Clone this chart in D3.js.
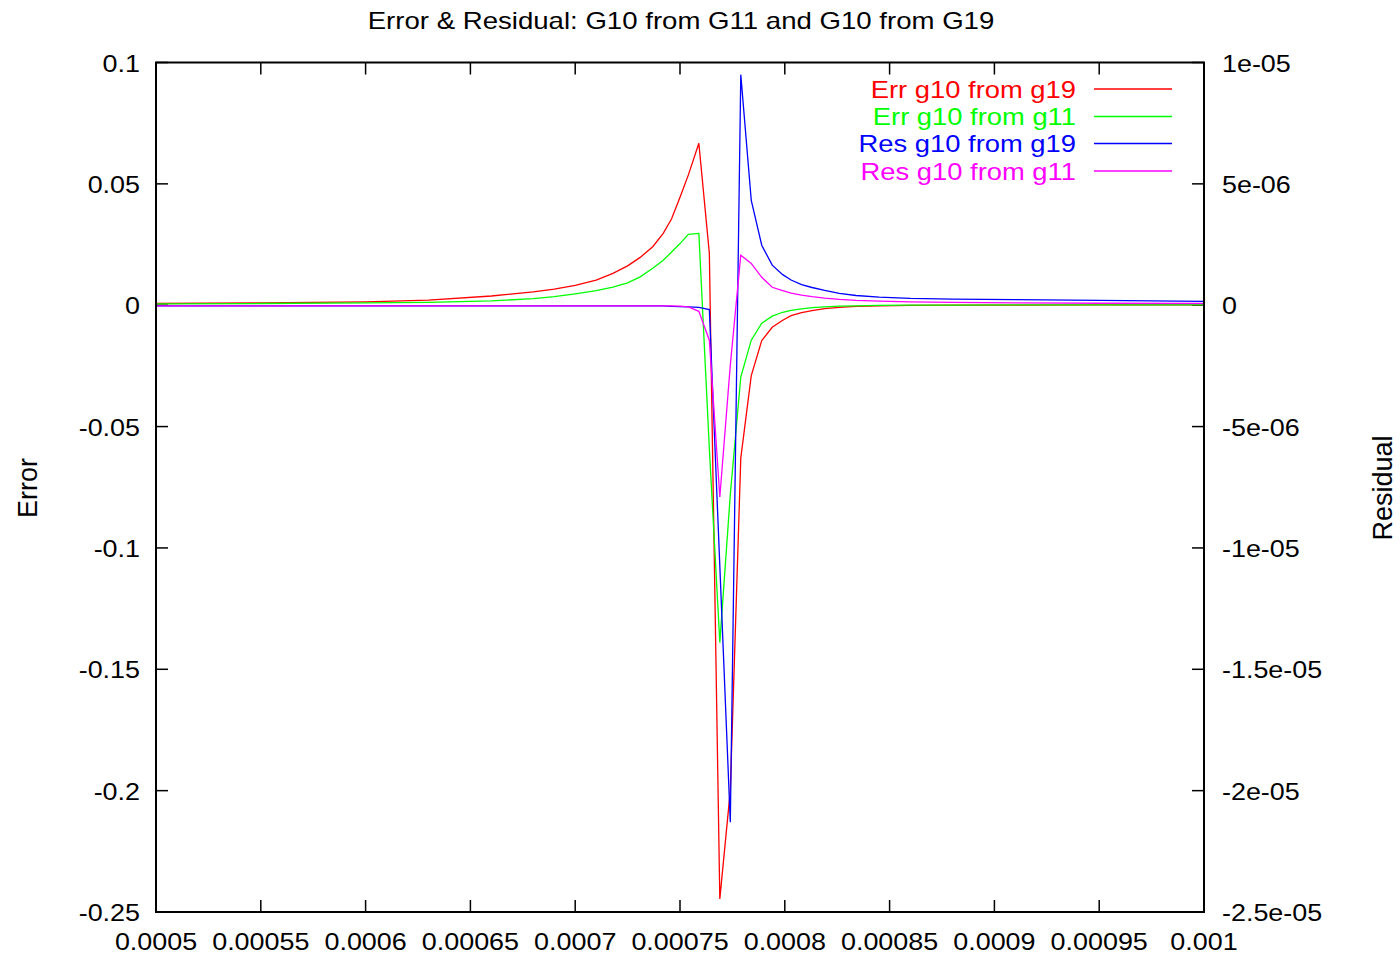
<!DOCTYPE html>
<html>
<head>
<meta charset="utf-8">
<script src="https://cdn.jsdelivr.net/npm/d3@7"></script>
<style>
  body { margin: 0; background: #fff; }
  text { font-family: "Liberation Sans", Arial, Helvetica, sans-serif; fill: #000; }
</style>
</head>
<body>
<svg id="chart" width="1400" height="956"></svg>
<script>
// x positions of the samples
var xValues = [0.0005, 0.00055, 0.0006, 0.00063, 0.00066, 0.00068, 0.00069, 0.0007, 0.00071, 0.000718,
  0.000725, 0.000731, 0.000737, 0.000742, 0.000746, 0.00075, 0.000754, 0.000759,
  0.000764, 0.000769, 0.000774, 0.000779, 0.000784, 0.000789, 0.000794,
  0.000799, 0.000803, 0.000808, 0.000813, 0.000819, 0.000826, 0.000834, 0.000845, 0.00086, 0.00088,
  0.00091, 0.00095, 0.001];

// error series (left axis)
var errG19 = [0.0007, 0.00095, 0.00136, 0.0021, 0.0038, 0.0055, 0.0066, 0.0082, 0.0103, 0.0131,
  0.0162, 0.0197, 0.0241, 0.0296, 0.0356, 0.0445, 0.0537, 0.0667,
  0.0214, -0.2446, -0.20, -0.063, -0.029, -0.0146, -0.0091,
  -0.0062, -0.0043, -0.0031, -0.0022, -0.0014, -0.0009, -0.0005, -0.0003, -0.0001, 0,
  0, 0.0001, 0.0002];
var errG11 = [0.00054, 0.0007, 0.001, 0.0012, 0.0018, 0.0027, 0.0035, 0.0047, 0.006, 0.0075,
  0.0092, 0.0117, 0.0152, 0.0185, 0.0219, 0.0254, 0.0292, 0.0296,
  -0.059, -0.139, -0.078, -0.0296, -0.0144, -0.0074, -0.0045,
  -0.0029, -0.0021, -0.0015, -0.001, -0.0007, -0.0004, -0.00025, -0.0001, 0, 0,
  0.0001, 0.0001, 0.0002];

// residual series (right axis)
var resG19 = [-3e-8, -3e-8, -3e-8, -3e-8, -3e-8, -3e-8, -3e-8, -3e-8, -3e-8, -3e-8,
  -3e-8, -3e-8, -3e-8, -3e-8, -5e-8, -6e-8, -7e-8, -9e-8,
  -1.8e-7, -1.075e-5, -2.13e-5, 9.5e-6, 4.32e-6, 2.47e-6, 1.65e-6,
  1.26e-6, 1.04e-6, 8.5e-7, 7.3e-7, 6.1e-7, 4.9e-7, 4.0e-7, 3.3e-7, 2.8e-7, 2.55e-7,
  2.3e-7, 2.0e-7, 1.6e-7];
var resG11 = [-3e-8, -3e-8, -3e-8, -3e-8, -3e-8, -3e-8, -3e-8, -3e-8, -3e-8, -3e-8,
  -3e-8, -3e-8, -3e-8, -3e-8, -3e-8, -4e-8, -7e-8, -2.5e-7,
  -1.44e-6, -7.9e-6, -2.47e-6, 2.06e-6, 1.72e-6, 1.15e-6, 7.4e-7,
  6.05e-7, 5.0e-7, 4.2e-7, 3.54e-7, 2.96e-7, 2.43e-7, 2.0e-7, 1.7e-7, 1.4e-7, 1.2e-7,
  1.0e-7, 8e-8, 7e-8];

var seriesNames = ["Err g10 from g19", "Err g10 from g11", "Res g10 from g19", "Res g10 from g11"];
var seriesColors = ["#ff0000", "#00ff00", "#0000ff", "#ff00ff"];
var seriesAxis = ["err", "err", "res", "res"];

var xTicks = [0.0005, 0.00055, 0.0006, 0.00065, 0.0007, 0.00075, 0.0008, 0.00085, 0.0009, 0.00095, 0.001];
var xTickLabels = ["0.0005", "0.00055", "0.0006", "0.00065", "0.0007", "0.00075", "0.0008", "0.00085", "0.0009", "0.00095", "0.001"];
var errTicks = [0.1, 0.05, 0, -0.05, -0.1, -0.15, -0.2, -0.25];
var errTickLabels = ["0.1", "0.05", "0", "-0.05", "-0.1", "-0.15", "-0.2", "-0.25"];
var resTicks = [1e-5, 5e-6, 0, -5e-6, -1e-5, -1.5e-5, -2e-5, -2.5e-5];
var resTickLabels = ["1e-05", "5e-06", "0", "-5e-06", "-1e-05", "-1.5e-05", "-2e-05", "-2.5e-05"];

var plotLeft = 156, plotRight = 1204, plotTop = 62.5, plotBottom = 912;
var fs = 23;

var svg = d3.select("#chart");

var x = d3.scaleLinear().domain([0.0005, 0.001]).range([plotLeft, plotRight]);
var yErr = d3.scaleLinear().domain([-0.25, 0.1]).range([plotBottom, plotTop]);
var yRes = d3.scaleLinear().domain([-2.5e-5, 1e-5]).range([plotBottom, plotTop]);

// stretched text like the original
function label(px, py, str, anchor, color, sx) {
  svg.append("g")
    .attr("transform", "translate(" + px + "," + py + ") scale(" + (sx || 1.17) + ",1)")
    .append("text")
    .attr("text-anchor", anchor)
    .style("font-size", fs + "px")
    .style("fill", color || "#000")
    .text(str);
}

svg.append("defs").append("clipPath").attr("id", "plotclip")
  .append("rect").attr("x", plotLeft).attr("y", plotTop)
  .attr("width", plotRight - plotLeft).attr("height", plotBottom - plotTop);

// ticks (inward, mirrored on top)
var tickG = svg.append("g").attr("stroke", "#000").attr("stroke-width", 1.5);
xTicks.forEach(function(t, i) {
  tickG.append("line").attr("x1", x(t)).attr("x2", x(t)).attr("y1", plotBottom).attr("y2", plotBottom - 12);
  tickG.append("line").attr("x1", x(t)).attr("x2", x(t)).attr("y1", plotTop).attr("y2", plotTop + 12);
  label(x(t), 950, xTickLabels[i], "middle");
});
errTicks.forEach(function(t, i) {
  tickG.append("line").attr("x1", plotLeft).attr("x2", plotLeft + 12).attr("y1", yErr(t)).attr("y2", yErr(t));
  label(140, yErr(t) + 9, errTickLabels[i], "end");
});
resTicks.forEach(function(t, i) {
  tickG.append("line").attr("x1", plotRight).attr("x2", plotRight - 12).attr("y1", yRes(t)).attr("y2", yRes(t));
  label(1222, yRes(t) + 9, resTickLabels[i], "start");
});

// lines
var allSeries = [errG19, errG11, resG19, resG11];
var plot = svg.append("g").attr("clip-path", "url(#plotclip)");
allSeries.forEach(function(vals, k) {
  var yScale = seriesAxis[k] === "err" ? yErr : yRes;
  var line = d3.line()
    .x(function(d, i) { return x(xValues[i]); })
    .y(function(d) { return yScale(d); });
  plot.append("path")
    .datum(vals)
    .attr("fill", "none")
    .attr("stroke", seriesColors[k])
    .attr("stroke-width", 1.3)
    .attr("stroke-linejoin", "miter")
    .attr("d", line);
});

// border
svg.append("rect")
  .attr("x", plotLeft).attr("y", plotTop)
  .attr("width", plotRight - plotLeft).attr("height", plotBottom - plotTop)
  .attr("fill", "none").attr("stroke", "#000").attr("stroke-width", 2);

// legend
var legendY = [89, 116.5, 143.5, 171];
seriesNames.forEach(function(name, k) {
  label(1076, legendY[k] + 8.5, name, "end", seriesColors[k], 1.19);
  svg.append("line")
    .attr("x1", 1094).attr("x2", 1172)
    .attr("y1", legendY[k]).attr("y2", legendY[k])
    .attr("stroke", seriesColors[k]).attr("stroke-width", 1.3);
});

// title and axis names
label(681, 29, "Error & Residual: G10 from G11 and G10 from G19", "middle", "#000", 1.2);

svg.append("text")
  .attr("transform", "translate(37,488) rotate(-90)")
  .attr("text-anchor", "middle")
  .style("font-size", "27px")
  .text("Error");
svg.append("text")
  .attr("transform", "translate(1392,488) rotate(-90)")
  .attr("text-anchor", "middle")
  .style("font-size", "27px")
  .text("Residual");
</script>
</body>
</html>
